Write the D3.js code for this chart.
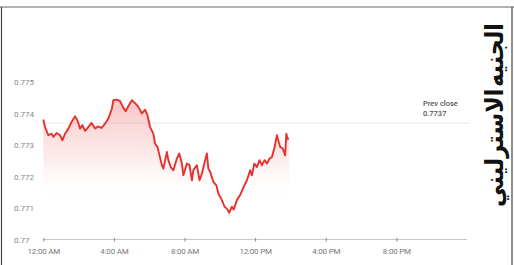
<!DOCTYPE html>
<html>
<head>
<meta charset="utf-8">
<script src="https://cdn.jsdelivr.net/npm/d3@7"></script>
<style>
  body { margin: 0; background: #fff; }
  svg { display: block; }
</style>
</head>
<body>
<div id="chart"></div>
<script>
var svgWidth = 514;
var svgHeight = 265;

// time of day (HH:MM) and rate
var times = ["00:00","00:06","00:17","00:28","00:34","00:45","00:57","01:05","01:14","01:25",
  "01:36","01:48","01:56","02:05","02:13","02:22","02:33","02:44","02:56","03:05",
  "03:18","03:30","03:41","03:53","03:58","04:10","04:21","04:30","04:40","04:49",
  "05:01","05:12","05:23","05:35","05:46","05:54","06:03","06:14","06:20","06:28",
  "06:35","06:43","06:48","07:00","07:05","07:13","07:22","07:34","07:42","07:51",
  "07:56","08:08","08:17","08:25","08:30","08:42","08:51","08:59","09:10","09:16",
  "09:21","09:27","09:38","09:48","09:55","10:07","10:16","10:24","10:32","10:41",
  "10:47","10:58","11:09","11:21","11:32","11:43","11:49","11:57","12:06","12:15",
  "12:23","12:32","12:40","12:49","12:57","13:05","13:14","13:20","13:25","13:34",
  "13:42","13:46","13:50","13:55"];
var rates = [0.77381,0.77357,0.77331,0.77336,0.77326,0.77338,0.77331,0.77315,0.77336,0.77352,
  0.77373,0.77391,0.77378,0.77352,0.77363,0.77345,0.77357,0.77370,0.77352,0.77359,
  0.77354,0.77368,0.77384,0.77415,0.77442,0.77444,0.77439,0.77421,0.77407,0.77423,
  0.77442,0.77433,0.77421,0.77400,0.77412,0.77394,0.77357,0.77336,0.77304,0.77294,
  0.77267,0.77236,0.77225,0.77278,0.77252,0.77230,0.77220,0.77257,0.77273,0.77241,
  0.77204,0.77241,0.77236,0.77188,0.77220,0.77236,0.77188,0.77209,0.77252,0.77273,
  0.77225,0.77215,0.77183,0.77172,0.77146,0.77125,0.77104,0.77098,0.77085,0.77104,
  0.77095,0.77125,0.77141,0.77167,0.77188,0.77220,0.77204,0.77241,0.77230,0.77252,
  0.77236,0.77252,0.77241,0.77257,0.77262,0.77289,0.77331,0.77310,0.77294,0.77289,
  0.77267,0.77336,0.77320,0.77320];

var yTicks = [0.77, 0.771, 0.772, 0.773, 0.774, 0.775];
var xTickHours = [0, 4, 8, 12, 16, 20];
var xTickLabels = ["12:00 AM", "4:00 AM", "8:00 AM", "12:00 PM", "4:00 PM", "8:00 PM"];
var prevClose = 0.7737;
var title = "الجنيه الاسترليني";

var data = times.map(function (t, i) {
    var p = t.split(":");
    return { hour: +p[0] + p[1] / 60, rate: rates[i] };
});

var svg = d3.select("#chart")
    .append("svg")
    .attr("width", svgWidth)
    .attr("height", svgHeight);

// frame
svg.append("line").attr("x1", 0).attr("x2", svgWidth).attr("y1", 7).attr("y2", 7)
    .attr("stroke", "#9a9a9a").attr("stroke-width", 1.5);
svg.append("line").attr("x1", 1.5).attr("x2", 1.5).attr("y1", 7).attr("y2", svgHeight)
    .attr("stroke", "#444").attr("stroke-width", 1.2);
svg.append("line").attr("x1", 512).attr("x2", 512).attr("y1", 7).attr("y2", svgHeight)
    .attr("stroke", "#444").attr("stroke-width", 1.2);

var x = d3.scaleLinear().domain([0, 24]).range([43.3, 467]);
var y = d3.scaleLinear().domain([0.77, 0.775]).range([239.5, 82]);

var defs = svg.append("defs");
var grad = defs.append("linearGradient")
    .attr("id", "fade")
    .attr("gradientUnits", "userSpaceOnUse")
    .attr("x1", 0).attr("x2", 0)
    .attr("y1", y(0.7745)).attr("y2", y(0.7712));
grad.append("stop").attr("offset", 0).attr("stop-color", "#e8373a").attr("stop-opacity", 0.3);
grad.append("stop").attr("offset", 0.6).attr("stop-color", "#ef6a6a").attr("stop-opacity", 0.12);
grad.append("stop").attr("offset", 1).attr("stop-color", "#ffffff").attr("stop-opacity", 0);

// prev close line
svg.append("line")
    .attr("x1", x(0)).attr("x2", x(24) + 3)
    .attr("y1", y(prevClose)).attr("y2", y(prevClose))
    .attr("stroke", "#f0f0f0").attr("stroke-width", 1.5);

// x axis
var xAxis = d3.axisBottom(x)
    .tickValues(xTickHours)
    .tickSize(3)
    .tickFormat(function (d, i) { return xTickLabels[i]; });

var gx = svg.append("g")
    .attr("transform", "translate(0," + y(0.77) + ")")
    .call(xAxis);
gx.select(".domain").attr("stroke", "#c8c8c8").attr("stroke-width", 1.2)
    .attr("d", "M" + x(0) + ",0H" + x(24));
gx.selectAll(".tick line").attr("stroke", "#888").attr("y1", -1.5).attr("y2", 2);
gx.selectAll(".tick text")
    .attr("y", 9)
    .attr("fill", "#777")
    .attr("font-family", "Roboto, sans-serif")
    .attr("font-size", 8)
    .attr("letter-spacing", -0.2);

// y labels
svg.append("g").selectAll("text")
    .data(yTicks)
    .enter()
    .append("text")
    .attr("x", 14)
    .attr("y", d => y(d) + 3)
    .attr("fill", "#888")
    .attr("font-family", "Roboto, sans-serif")
    .attr("font-size", 8)
    .text(d => d3.format("")(d));

// area + line
var area = d3.area()
    .x(d => x(d.hour))
    .y0(y(0.7708))
    .y1(d => y(d.rate));

svg.append("path")
    .datum(data)
    .attr("d", area)
    .attr("fill", "url(#fade)");

var line = d3.line()
    .x(d => x(d.hour))
    .y(d => y(d.rate));

svg.append("path")
    .datum(data)
    .attr("d", line)
    .attr("fill", "none")
    .attr("stroke", "#e8302c")
    .attr("stroke-width", 1.9)
    .attr("stroke-linejoin", "round");

// prev close label
svg.append("text")
    .attr("x", 423).attr("y", 106)
    .attr("fill", "#555")
    .attr("font-family", "Roboto, sans-serif")
    .attr("font-weight", 500)
    .attr("font-size", 7.5)
    .text("Prev close");
svg.append("text")
    .attr("x", 423).attr("y", 116)
    .attr("fill", "#555")
    .attr("font-family", "Roboto, sans-serif")
    .attr("font-weight", 500)
    .attr("font-size", 7.5)
    .text(d3.format(".4f")(prevClose));

// vertical Arabic title
svg.append("text")
    .attr("transform", "translate(503,115) rotate(-90)")
    .attr("text-anchor", "middle")
    .attr("direction", "rtl")
    .attr("font-family", "'DejaVu Sans', sans-serif")
    .attr("font-weight", "bold")
    .attr("font-size", 25)
    .attr("word-spacing", -7)
    .attr("textLength", 184)
    .attr("lengthAdjust", "spacingAndGlyphs")
    .attr("fill", "#111")
    .text(title);
</script>
</body>
</html>
